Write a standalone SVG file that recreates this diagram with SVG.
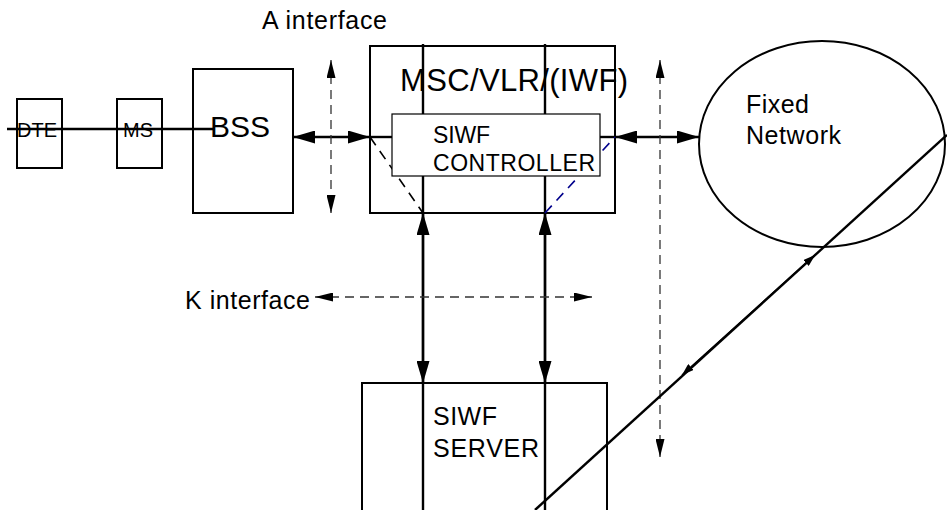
<svg xmlns="http://www.w3.org/2000/svg" width="947" height="510" viewBox="0 0 947 510">
<defs>
<style>
.box{fill:#fff;stroke:#000;stroke-width:2}
.thin{fill:#fff;stroke:#000;stroke-width:1.2}
.t{font-family:"Liberation Sans",Arial,sans-serif;fill:#000}
.ln{stroke:#000;stroke-width:2.4;fill:none}
.dash{stroke:#333;stroke-width:1.3;stroke-dasharray:9,6;fill:none}
</style>
<marker id="ah" viewBox="0 0 22 13" refX="22" refY="6.5" markerWidth="22" markerHeight="13" markerUnits="userSpaceOnUse" orient="auto-start-reverse"><path d="M0,0L22,6.5L0,13z" fill="#000"/></marker>
<marker id="dh" viewBox="0 0 18 9" refX="18" refY="4.5" markerWidth="18" markerHeight="9" markerUnits="userSpaceOnUse" orient="auto-start-reverse"><path d="M0,0L18,4.5L0,9z" fill="#000"/></marker>
<marker id="sh" viewBox="0 0 12 8" refX="12" refY="4" markerWidth="12" markerHeight="8" markerUnits="userSpaceOnUse" orient="auto-start-reverse"><path d="M0,0L12,4L0,8z" fill="#000"/></marker>
</defs>
<rect width="947" height="510" fill="#fff"/>
<g id="fixed-network">
<ellipse cx="822" cy="144" rx="123" ry="103" fill="#fff" stroke="#000" stroke-width="2"/>
<text class="t" x="746" y="113" font-size="25" textLength="63">Fixed</text>
<text class="t" x="746" y="144" font-size="25" textLength="95">Network</text>
</g>
<g id="dte"><rect class="box" x="17" y="99" width="45" height="69"/><text class="t" x="17" y="137" font-size="20">DTE</text></g>
<g id="ms"><rect class="box" x="117" y="99" width="45" height="69"/><text class="t" x="123" y="137" font-size="20">MS</text></g>
<g id="bss"><rect class="box" x="193" y="69" width="100" height="144"/><text class="t" x="210" y="137" font-size="30" textLength="60">BSS</text></g>
<g id="msc"><rect class="box" x="370" y="46" width="245" height="167"/><text class="t" x="400" y="91" font-size="31" textLength="228">MSC/VLR/(IWF)</text></g>
<g id="siwf-server"><rect class="box" x="362" y="383" width="245" height="140"/><text class="t" x="433" y="425" font-size="25" textLength="64">SIWF</text><text class="t" x="433" y="457" font-size="25" textLength="106">SERVER</text></g>
<g id="connectors">
<line class="ln" x1="7" y1="129" x2="213" y2="129" stroke-width="2"/>
<line class="ln" x1="423" y1="44" x2="423" y2="510"/>
<line class="ln" x1="545" y1="44" x2="545" y2="510"/>
<line class="ln" x1="423" y1="213" x2="423" y2="383" marker-start="url(#ah)" marker-end="url(#ah)"/>
<line class="ln" x1="545" y1="213" x2="545" y2="383" marker-start="url(#ah)" marker-end="url(#ah)"/>
<line class="ln" x1="293" y1="137" x2="370" y2="137" marker-start="url(#ah)" marker-end="url(#ah)"/>
<line class="ln" x1="370" y1="137" x2="392" y2="137"/>
<line class="ln" x1="600" y1="137" x2="615" y2="137"/>
<line class="ln" x1="615" y1="137" x2="699" y2="137" marker-start="url(#ah)" marker-end="url(#ah)"/>
<line x1="370" y1="137" x2="423" y2="213" stroke="#000" stroke-width="1.6" stroke-dasharray="10,7"/>
<line x1="545" y1="213" x2="615" y2="137" stroke="#00008b" stroke-width="1.6" stroke-dasharray="10,7"/>
<line class="dash" x1="331" y1="60" x2="331" y2="213" marker-start="url(#dh)" marker-end="url(#dh)"/>
<line class="dash" x1="660" y1="60" x2="660" y2="457" marker-start="url(#dh)" marker-end="url(#dh)"/>
<line class="dash" x1="315" y1="297" x2="592" y2="297" marker-start="url(#dh)" marker-end="url(#dh)"/>
<line class="ln" x1="535" y1="510" x2="947" y2="135" stroke-width="2.2"/>
<line x1="682" y1="375" x2="815" y2="255" stroke="#000" stroke-width="1.5" marker-start="url(#sh)" marker-end="url(#sh)"/>
</g>
<g id="siwf-controller"><rect class="thin" x="392" y="114" width="208" height="62"/><text class="t" x="433" y="143" font-size="23" textLength="57">SIWF</text><text class="t" x="433" y="171" font-size="23" textLength="162">CONTROLLER</text></g>
<g id="labels">
<text class="t" x="262" y="29" font-size="25" textLength="125">A interface</text>
<text class="t" x="185" y="309" font-size="25" textLength="125">K interface</text>
</g>
</svg>
